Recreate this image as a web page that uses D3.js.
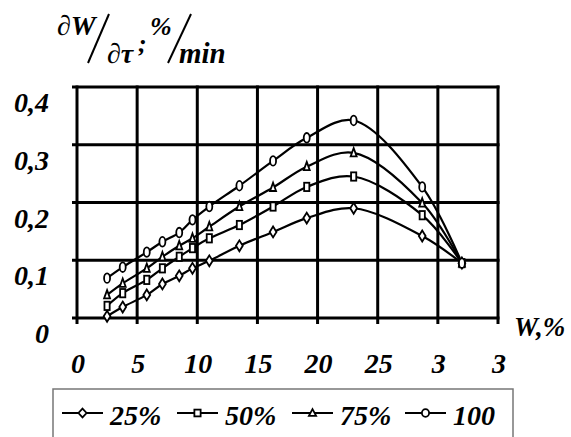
<!DOCTYPE html>
<html>
<head>
<meta charset="utf-8">
<script src="https://cdn.jsdelivr.net/npm/d3@7"></script>
<style>
  body { margin: 0; background: #fff; }
  text { font-family: "Liberation Serif", "Times New Roman", serif; font-weight: bold; font-style: italic; }
</style>
</head>
<body>
<script>
// moisture content W, %
const moisture = [2.5, 3.8, 5.8, 7.1, 8.5, 9.6, 11.0, 13.5, 16.3, 19.1, 23.0, 28.7, 32.0];
// drying rate dW/dt, %/min, one list per series
const rate25  = [0.003, 0.019, 0.040, 0.059, 0.073, 0.086, 0.099, 0.125, 0.149, 0.173, 0.190, 0.142, 0.095];
const rate50  = [0.021, 0.043, 0.066, 0.086, 0.106, 0.121, 0.138, 0.161, 0.193, 0.227, 0.245, 0.178, 0.095];
const rate75  = [0.040, 0.060, 0.086, 0.106, 0.125, 0.138, 0.158, 0.193, 0.226, 0.262, 0.286, 0.199, 0.095];
const rate100 = [0.069, 0.088, 0.114, 0.132, 0.148, 0.170, 0.193, 0.229, 0.272, 0.312, 0.342, 0.227, 0.095];

const seriesNames = ["25%", "50%", "75%", "100"];
const seriesShapes = ["diamond", "square", "triangle", "circle"];
const xTicks = [0, 5, 10, 15, 20, 25, 30, 35];
const xTickLabels = ["0", "5", "10", "15", "20", "25", "3", "3"];
const yTicks = [0, 0.1, 0.2, 0.3, 0.4];
const yTickLabels = ["0", "0,1", "0,2", "0,3", "0,4"];

const series = [rate25, rate50, rate75, rate100].map((vals, i) => ({
  name: seriesNames[i],
  shape: seriesShapes[i],
  points: vals.map((v, j) => ({ x: moisture[j], y: v }))
}));

const width = 571, height = 437;
const svg = d3.select("body").append("svg")
    .attr("width", width)
    .attr("height", height);

const x = d3.scaleLinear().domain([0, 35]).range([77, 498]);
const y = d3.scaleLinear().domain([0, 0.4]).range([318, 87]);

// grid
const grid = svg.append("g").attr("stroke", "#000").attr("stroke-width", 3);
grid.selectAll("line.v").data(xTicks).join("line")
    .attr("x1", d => x(d)).attr("x2", d => x(d))
    .attr("y1", y(0.4) - 1.5).attr("y2", y(0) + 6);
grid.selectAll("line.h").data(yTicks).join("line")
    .attr("x1", x(0) - 5).attr("x2", x(35) + 1.5)
    .attr("y1", d => y(d)).attr("y2", d => y(d));

// tick labels
svg.append("g").selectAll("text").data(yTicks).join("text")
    .attr("x", 49)
    .attr("y", d => y(d) + 25)
    .attr("text-anchor", "end")
    .attr("font-size", 28)
    .text((d, i) => yTickLabels[i]);

svg.append("g").selectAll("text").data(xTicks).join("text")
    .attr("x", d => x(d) + 1)
    .attr("y", 373)
    .attr("text-anchor", "middle")
    .attr("font-size", 28)
    .text((d, i) => xTickLabels[i]);

svg.append("text").attr("x", 514).attr("y", 336).attr("font-size", 27).text("W,%");

// y axis title: dW/dt ; %/min
const title = svg.append("g");
title.append("text").attr("x", 57).attr("y", 35).attr("font-size", 28)
  .html('<tspan font-style="normal" font-weight="normal">∂</tspan>W');
title.append("line").attr("x1", 109).attr("y1", 14).attr("x2", 88).attr("y2", 63)
  .attr("stroke", "#000").attr("stroke-width", 2);
title.append("text").attr("x", 107).attr("y", 63).attr("font-size", 28)
  .html('<tspan font-style="normal" font-weight="normal">∂</tspan>τ');
title.append("text").attr("x", 138).attr("y", 52).attr("font-size", 26).text(";");
title.append("text").attr("x", 150).attr("y", 35).attr("font-size", 26).text("%");
title.append("line").attr("x1", 191).attr("y1", 14).attr("x2", 168).attr("y2", 63)
  .attr("stroke", "#000").attr("stroke-width", 2);
title.append("text").attr("x", 179).attr("y", 63).attr("font-size", 29).text("min");

// lines
const line = d3.line()
    .x(d => x(d.x))
    .y(d => y(d.y))
    .curve(d3.curveCatmullRom.alpha(0.5));

svg.append("g").selectAll("path").data(series).join("path")
    .attr("d", d => line(d.points))
    .attr("fill", "none")
    .attr("stroke", "#000")
    .attr("stroke-width", 2.2);

// markers
function drawMarker(g, shape, sx, sy) {
  if (shape === "circle") {
    g.append("ellipse").attr("rx", 3 * sx).attr("ry", 3 * sy)
      .attr("fill", "#fff").attr("stroke", "#000").attr("stroke-width", 1.8);
  } else if (shape === "square") {
    g.append("rect").attr("x", -2.6 * sx).attr("y", -2.6 * sy)
      .attr("width", 5.2 * sx).attr("height", 5.2 * sy)
      .attr("fill", "#fff").attr("stroke", "#000").attr("stroke-width", 1.8);
  } else if (shape === "diamond") {
    g.append("path")
      .attr("d", `M0,${-3.4 * sy}L${3.4 * sx},0L0,${3.4 * sy}L${-3.4 * sx},0Z`)
      .attr("fill", "#fff").attr("stroke", "#000").attr("stroke-width", 1.8);
  } else {
    g.append("path")
      .attr("d", `M0,${-3 * sy}L${3 * sx},${2.2 * sy}L${-3 * sx},${2.2 * sy}Z`)
      .attr("fill", "#fff").attr("stroke", "#000").attr("stroke-width", 1.8);
  }
}

series.forEach(s => {
  const g = svg.append("g");
  s.points.forEach(p => {
    const m = g.append("g").attr("transform", `translate(${x(p.x)},${y(p.y)})`);
    drawMarker(m, s.shape, 1, 1.6);
  });
});

// legend
const legend = svg.append("g");
legend.append("path")
    .attr("d", "M53,437V389H513V437")
    .attr("fill", "none")
    .attr("stroke", "#777")
    .attr("stroke-width", 1.5);

const legendX = [62, 177, 292, 405];
series.forEach((s, i) => {
  const g = legend.append("g").attr("transform", `translate(${legendX[i]},413)`);
  g.append("line").attr("x1", 0).attr("x2", 41).attr("stroke", "#000").attr("stroke-width", 2);
  drawMarker(g.append("g").attr("transform", "translate(20.5,0)"), s.shape, 1.2, 1.3);
  g.append("text").attr("x", 48).attr("y", 12).attr("font-size", 28).text(s.name);
});
</script>
</body>
</html>
